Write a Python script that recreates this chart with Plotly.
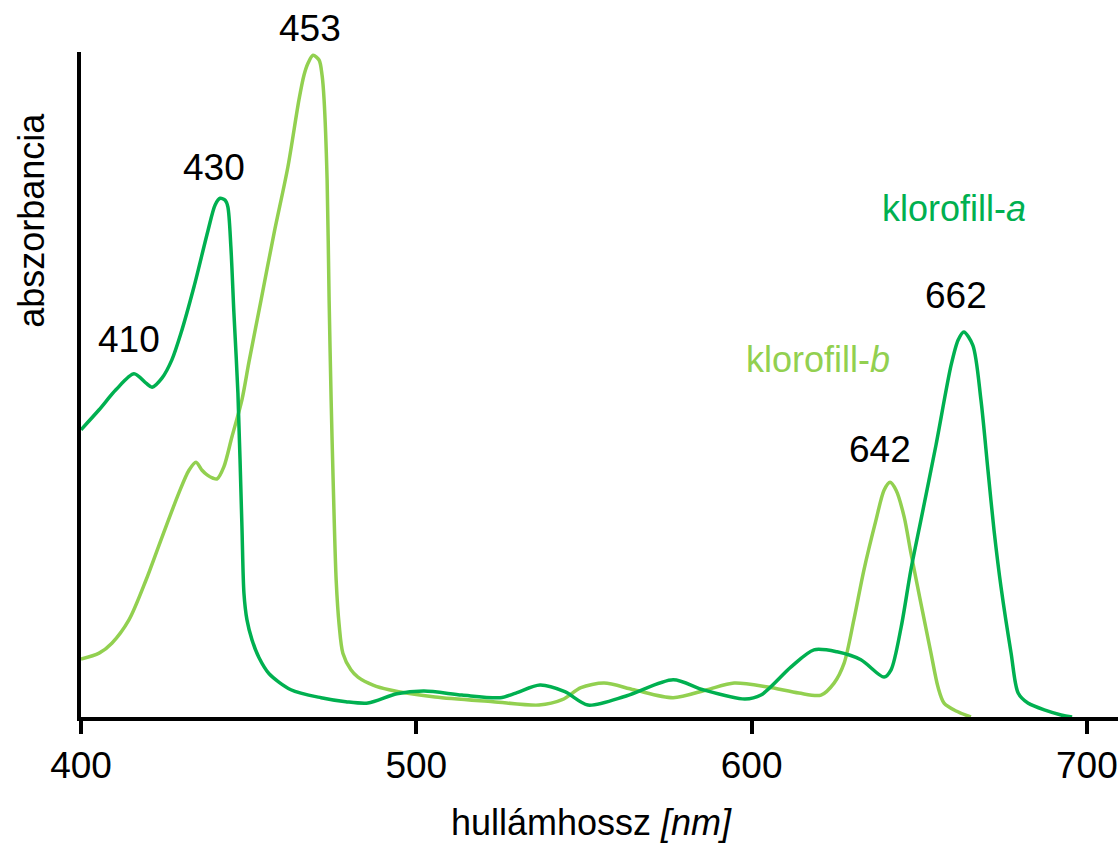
import plotly.graph_objects as go

# Chlorophyll a (wavelength nm, relative absorbance)
chl_a_nm = [400.0, 405.4, 410.4, 415.8, 419.4, 421.2, 424.2, 427.1, 429.8, 433.7,
            437.9, 440.0, 441.5, 443.0, 443.8, 444.7, 445.6, 446.8, 448.0, 448.6,
            449.5, 451.0, 453.1, 456.1, 462.6, 471.6, 479.0, 485.6, 494.2, 502.3,
            513.6, 525.0, 529.7, 536.9, 544.3, 551.2, 562.8, 576.6, 585.5, 598.0,
            602.8, 611.7, 618.6, 625.5, 632.6, 639.5, 641.6, 644.6, 647.5, 650.5,
            655.0, 659.5, 661.6, 663.3, 666.0, 668.4, 670.5, 672.3, 674.4, 677.4,
            679.5, 682.4, 692.3, 695.6]
chl_a_abs = [0.432, 0.462, 0.492, 0.516, 0.502, 0.496, 0.510, 0.537, 0.577, 0.647,
             0.732, 0.770, 0.780, 0.777, 0.767, 0.707, 0.608, 0.487, 0.286, 0.186,
             0.146, 0.116, 0.089, 0.065, 0.041, 0.029, 0.023, 0.021, 0.035, 0.039,
             0.033, 0.029, 0.036, 0.048, 0.038, 0.018, 0.032, 0.056, 0.041, 0.027,
             0.033, 0.075, 0.101, 0.098, 0.086, 0.060, 0.071, 0.135, 0.221, 0.296,
             0.409, 0.529, 0.567, 0.579, 0.559, 0.477, 0.371, 0.281, 0.195, 0.096,
             0.036, 0.021, 0.003, 0.000]

# Chlorophyll b
chl_b_nm = [400.0, 405.4, 409.2, 414.3, 419.4, 424.2, 429.2, 432.2, 434.3, 436.1,
            437.6, 439.4, 440.6, 442.6, 445.0, 448.0, 450.1, 453.7, 457.6, 461.7,
            465.0, 466.5, 467.7, 469.2, 471.0, 471.9, 472.5, 473.4, 474.0, 474.6,
            475.2, 476.1, 477.0, 478.1, 480.5, 482.6, 487.1, 491.9, 505.6, 522.9,
            536.6, 543.5, 549.1, 556.0, 564.9, 576.6, 586.7, 594.8, 604.9, 614.1,
            620.7, 624.6, 627.6, 630.5, 633.5, 637.1, 639.5, 641.3, 643.1, 645.5,
            647.5, 650.5, 653.5, 655.6, 657.4, 661.0, 665.4]
chl_b_abs = [0.087, 0.096, 0.111, 0.146, 0.206, 0.271, 0.337, 0.371, 0.383, 0.371,
             0.364, 0.359, 0.358, 0.376, 0.421, 0.477, 0.534, 0.627, 0.728, 0.827,
             0.928, 0.965, 0.983, 0.995, 0.988, 0.965, 0.928, 0.808, 0.627, 0.477,
             0.356, 0.206, 0.138, 0.096, 0.071, 0.060, 0.048, 0.041, 0.030, 0.023,
             0.018, 0.026, 0.044, 0.051, 0.041, 0.029, 0.041, 0.051, 0.045, 0.036,
             0.033, 0.051, 0.081, 0.146, 0.221, 0.296, 0.341, 0.353, 0.341, 0.301,
             0.247, 0.171, 0.096, 0.045, 0.021, 0.009, 0.000]

# Peak labels
peak_labels = ["410", "430", "453", "662", "642"]
peak_label_x = [414.3, 439.8, 468.3, 660.9, 638.4]
peak_label_y = [0.568, 0.826, 1.035, 0.634, 0.403]

# Series labels
series_names = ["klorofill-<i>a</i>", "klorofill-<i>b</i>"]
series_label_x = [660.4, 619.8]
series_label_y = [0.764, 0.537]

x_ticks = [400, 500, 600, 700]

COLOR_A = "#00B050"
COLOR_B = "#92D050"
FONT = "Liberation Sans, Arial, sans-serif"

fig = go.Figure()
fig.add_trace(go.Scatter(x=chl_b_nm, y=chl_b_abs, mode="lines",
                         line=dict(color=COLOR_B, width=3.5, shape="spline", smoothing=0.8),
                         name="klorofill-b", hoverinfo="skip"))
fig.add_trace(go.Scatter(x=chl_a_nm, y=chl_a_abs, mode="lines",
                         line=dict(color=COLOR_A, width=3.5, shape="spline", smoothing=0.8),
                         name="klorofill-a", hoverinfo="skip"))

annotations = []
for t, x, y in zip(peak_labels, peak_label_x, peak_label_y):
    annotations.append(dict(text=t, x=x, y=y, xref="x", yref="paper", showarrow=False,
                            font=dict(size=37, color="black", family=FONT),
                            xanchor="center", yanchor="middle"))
for t, x, y, c in zip(series_names, series_label_x, series_label_y, [COLOR_A, COLOR_B]):
    annotations.append(dict(text=t, x=x, y=y, xref="x", yref="paper", showarrow=False,
                            font=dict(size=36, color=c, family=FONT),
                            xanchor="center", yanchor="middle"))
annotations.append(dict(text="hullámhossz <i>[nm]</i>", x=0.4923, y=-0.158,
                        xref="paper", yref="paper", showarrow=False,
                        font=dict(size=36, color="black", family=FONT),
                        xanchor="center", yanchor="middle"))
annotations.append(dict(text="abszorbancia", x=-0.0477, y=0.747, textangle=-90,
                        xref="paper", yref="paper", showarrow=False,
                        font=dict(size=36, color="black", family=FONT),
                        xanchor="center", yanchor="middle"))

fig.update_layout(
    width=1118, height=849,
    margin=dict(l=81, r=0, t=52, b=132, autoexpand=False),
    paper_bgcolor="white", plot_bgcolor="white",
    showlegend=False,
    annotations=annotations,
    font=dict(family=FONT, color="black"),
)
fig.update_xaxes(range=[400, 709.28], tickvals=x_ticks, ticktext=[str(v) for v in x_ticks],
                 ticks="outside", ticklen=13, tickwidth=4, tickcolor="black",
                 showline=True, linecolor="black", linewidth=4,
                 showgrid=False, zeroline=False, automargin=False,
                 tickfont=dict(size=37, color="black", family=FONT))
fig.update_yaxes(range=[0, 1], showline=True, linecolor="black", linewidth=4,
                 showticklabels=False, ticks="", showgrid=False, zeroline=False,
                 automargin=False)

# remove the default page margin so the figure fills the window exactly
fig.write_html("out.html", config={"displayModeBar": False},
               post_script="document.body.style.margin='0';document.body.style.overflow='hidden';")
